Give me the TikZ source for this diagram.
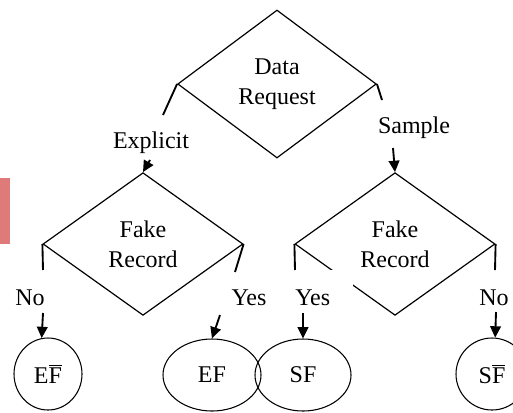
\documentclass[tikz,border=0pt]{standalone}
\usepackage{fontspec}
\setmainfont{Liberation Serif}
\usetikzlibrary{arrows.meta}
\usetikzlibrary{shapes.geometric}
\tikzstyle{decision} = [diamond, minimum width=150pt, minimum height=107pt, inner sep=0pt, text centered, align=center, draw=black, line width=0.9pt]
\tikzstyle{leaf} = [ellipse, minimum width=51pt, minimum height=54pt, inner sep=0pt, text centered, draw=black, line width=0.8pt]
\tikzstyle{lbl} = [inner sep=0pt, anchor=base]
\tikzstyle{link} = [line width=1.4pt]
\tikzstyle{arrow} = [line width=1.4pt,-{Triangle[length=8.5pt,width=8pt]}]
\definecolor{tabpink}{RGB}{222,122,122}

\begin{document}
\begin{tikzpicture}[x=0.75pt, y=-0.75pt, font=\fontsize{18}{22.5}\selectfont]
\useasboundingbox (0,0) rectangle (513,412);
\fill[tabpink] (0,178) rectangle (9.5,244);
% decisions
\node (req) [decision, minimum width=149pt, minimum height=111pt] at (277,84) {Data\\Request};
\node (fr1) [decision] at (143,244) {Fake\\Record};
\node (fr2) [decision] at (395,244) {Fake\\Record};
% outcomes
\node (efn) [leaf] at (48,374) {E$\overline{\mbox{F}}$};
\node (ef) [leaf, minimum width=73.5pt] at (212,375) {EF};
\node (sf) [leaf, minimum width=72pt] at (303,375) {SF};
\node (sfn) [leaf, minimum width=54pt] at (492,374) {S$\overline{\mbox{F}}$};
% labels
\node (exp) [lbl] at (151,148) {Explicit};
\node (sam) [lbl] at (414,133) {Sample};
\node (no1) [lbl] at (30,305) {No};
\node (yes1) [lbl] at (249,305) {Yes};
\node (yes2) [lbl, anchor=base west, fill=white, text width=43.5pt, align=left, text height=26pt, text depth=4pt] at (295,305) {Yes};
\node (no2) [lbl] at (494,305) {No};
% free ends
\coordinate (reqL) at (163,115);
\coordinate (reqR) at (382,100);
\coordinate (fr1L) at (43,270);
\coordinate (fr1R) at (235,272);
\coordinate (fr2L) at (295,270);
\coordinate (fr2R) at (495,270);
\coordinate (expA) at (150,160);
\coordinate (samA) at (393,148);
\coordinate (no1A) at (43,313);
\coordinate (yes1A) at (220,315);
\coordinate (yes2A) at (303,313);
\coordinate (no2A) at (496,312);
\draw [link] (req.west) -- (reqL);
\draw [link] (req.east) -- (reqR);
\draw [link] (fr1.west) -- (fr1L);
\draw [link] (fr1.east) -- (fr1R);
\draw [link] (fr2.west) -- (fr2L);
\draw [link] (fr2.east) -- (fr2R);
\draw [arrow] (expA) -- (fr1.north);
\draw [arrow] (samA) -- (fr2.north);
\draw [arrow] (no1A) -- (efn.100);
\draw [arrow] (yes1A) -- (ef.north);
\draw [arrow] (yes2A) -- (sf.north);
\draw [arrow] (no2A) -- (sfn.85);
\end{tikzpicture}
\end{document}
